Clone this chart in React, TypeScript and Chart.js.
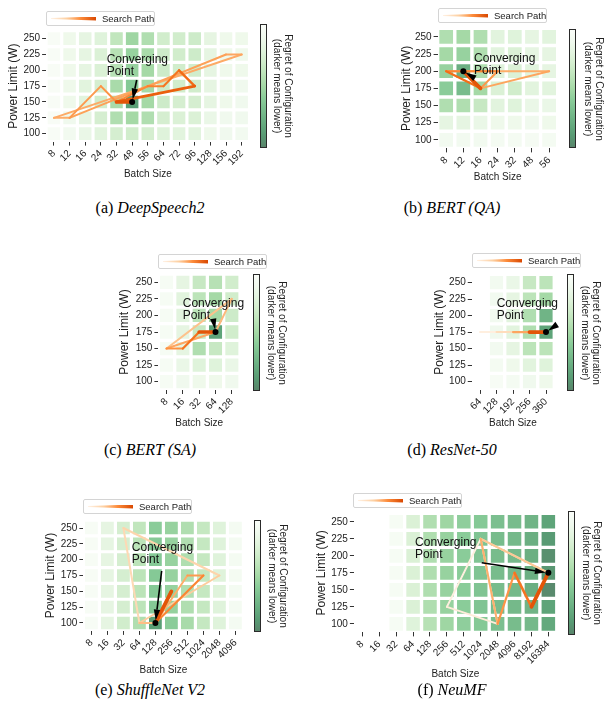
import React, { useEffect, useRef } from "react";
import { Chart, registerables } from "chart.js";
Chart.register(...registerables);

const FONT = '"Liberation Sans", Arial, Helvetica, sans-serif';
const SERIF = '"Liberation Serif", "Times New Roman", Times, serif';
const INK = "#222222";
Chart.defaults.font.family = FONT;
Chart.defaults.color = INK;

// ---------------- data ----------------
const powerLimits = [250, 225, 200, 175, 150, 125, 100];
const powerTicks = [100, 125, 150, 175, 200, 225, 250];

// (a) DeepSpeech2
const dsBatch = ["8", "12", "16", "24", "32", "48", "56", "64", "72", "96", "128", "156", "192"];
const dsRegret = [
  [0.02, 0.12, 0.18, 0.22, 0.38, 0.52, 0.45, 0.3, 0.3, 0.32, 0.18, 0.12, 0.12],
  [0.02, 0.12, 0.18, 0.25, 0.42, 0.55, 0.48, 0.32, 0.3, 0.32, 0.18, 0.12, 0.12],
  [0.02, 0.12, 0.18, 0.25, 0.42, 0.55, 0.5, 0.32, 0.3, 0.3, 0.18, 0.12, 0.12],
  [0.02, 0.12, 0.2, 0.28, 0.48, 0.62, 0.5, 0.32, 0.3, 0.3, 0.18, 0.12, 0.1],
  [0.02, 0.12, 0.2, 0.3, 0.48, 0.88, 0.5, 0.32, 0.28, 0.28, 0.18, 0.12, 0.1],
  [0.02, 0.1, 0.18, 0.28, 0.45, 0.5, 0.45, 0.28, 0.25, 0.25, 0.15, 0.1, 0.1],
  [0.02, 0.08, 0.15, 0.2, 0.28, 0.3, 0.28, 0.22, 0.2, 0.2, 0.12, 0.1, 0.08],
];
const dsPathBatch = ["12", "8", "192", "156", "12", "24", "32", "56", "64", "72", "96", "32", "48"];
const dsPathPower = [125, 125, 225, 225, 125, 175, 150, 175, 175, 200, 175, 150, 150];

// (b) BERT (QA)
const qaBatch = ["8", "12", "16", "24", "32", "48", "56"];
const qaRegret = [
  [0.45, 0.5, 0.45, 0.2, 0.22, 0.18, 0.2],
  [0.5, 0.55, 0.45, 0.2, 0.25, 0.18, 0.18],
  [0.55, 0.78, 0.45, 0.22, 0.25, 0.2, 0.18],
  [0.6, 0.7, 0.5, 0.25, 0.3, 0.2, 0.2],
  [0.45, 0.45, 0.35, 0.2, 0.22, 0.15, 0.15],
  [0.18, 0.18, 0.15, 0.12, 0.12, 0.1, 0.12],
  [0.08, 0.08, 0.08, 0.06, 0.06, 0.05, 0.06],
];
const qaPathBatch = ["8", "56", "16", "24", "8", "16", "12"];
const qaPathPower = [200, 200, 175, 200, 200, 175, 200];

// (c) BERT (SA)
const saBatch = ["8", "16", "32", "64", "128"];
const saRegret = [
  [0.04, 0.18, 0.35, 0.42, 0.3],
  [0.04, 0.2, 0.4, 0.5, 0.3],
  [0.04, 0.2, 0.4, 0.5, 0.32],
  [0.04, 0.18, 0.35, 0.85, 0.3],
  [0.04, 0.18, 0.45, 0.35, 0.22],
  [0.04, 0.15, 0.22, 0.22, 0.15],
  [0.04, 0.1, 0.12, 0.12, 0.1],
];
const saPathBatch = ["8", "128", "64", "8", "16", "32", "64"];
const saPathPower = [150, 225, 175, 150, 150, 175, 175];

// (d) ResNet-50
const rnBatch = ["64", "128", "192", "256", "360"];
const rnRegret = [
  [null, 0.08, 0.15, 0.35, 0.4],
  [null, 0.08, 0.18, 0.4, 0.5],
  [null, 0.08, 0.2, 0.45, 0.75],
  [null, 0.1, 0.2, 0.45, 0.85],
  [null, 0.08, 0.18, 0.4, 0.4],
  [null, 0.06, 0.12, 0.2, 0.22],
  [null, 0.03, 0.06, 0.1, 0.12],
];
const rnPathBatch = ["64", "128", "192", "256", "360"];
const rnPathPower = [175, 175, 175, 175, 175];

// (e) ShuffleNet V2
const snBatch = ["8", "16", "32", "64", "128", "256", "512", "1024", "2048", "4096"];
const snRegret = [
  [0.03, 0.18, 0.28, 0.38, 0.6, 0.55, 0.45, 0.36, 0.22, 0.06],
  [0.03, 0.18, 0.28, 0.4, 0.62, 0.55, 0.45, 0.36, 0.22, 0.06],
  [0.03, 0.18, 0.28, 0.4, 0.62, 0.55, 0.45, 0.36, 0.22, 0.06],
  [0.03, 0.18, 0.28, 0.4, 0.62, 0.55, 0.45, 0.36, 0.22, 0.06],
  [0.03, 0.18, 0.28, 0.4, 0.62, 0.55, 0.45, 0.36, 0.22, 0.06],
  [0.03, 0.18, 0.28, 0.4, 0.62, 0.56, 0.45, 0.36, 0.22, 0.06],
  [0.03, 0.18, 0.3, 0.45, 0.88, 0.6, 0.48, 0.36, 0.22, 0.06],
];
const snPathBatch = ["64", "32", "2048", "64", "128", "512", "1024", "128", "256", "128"];
const snPathPower = [100, 250, 175, 100, 100, 175, 175, 100, 150, 100];

// (f) NeuMF
const nmBatch = ["8", "16", "32", "64", "128", "256", "512", "1024", "2048", "4096", "8192", "16384"];
const nmRegret = [
  [null, null, 0.04, 0.25, 0.45, 0.52, 0.58, 0.62, 0.68, 0.7, 0.75, 0.85],
  [null, null, 0.04, 0.25, 0.45, 0.55, 0.6, 0.65, 0.7, 0.72, 0.78, 0.9],
  [null, null, 0.04, 0.25, 0.45, 0.55, 0.6, 0.65, 0.7, 0.72, 0.78, 0.95],
  [null, null, 0.04, 0.25, 0.45, 0.55, 0.6, 0.65, 0.7, 0.72, 0.78, 0.92],
  [null, null, 0.04, 0.25, 0.45, 0.55, 0.6, 0.65, 0.7, 0.72, 0.78, 0.98],
  [null, null, 0.04, 0.25, 0.45, 0.55, 0.6, 0.65, 0.7, 0.72, 0.75, 0.85],
  [null, null, 0.04, 0.22, 0.42, 0.52, 0.58, 0.62, 0.68, 0.7, 0.72, 0.82],
];
const nmPathBatch = ["1024", "256", "2048", "1024", "16384", "1024", "2048", "4096", "8192", "16384"];
const nmPathPower = [225, 125, 100, 225, 175, 225, 100, 175, 125, 175];

// ---------------- colours ----------------
const GREENS = [
  [247, 252, 245], [229, 245, 224], [199, 233, 192], [161, 217, 155], [116, 196, 118],
  [65, 171, 93], [35, 139, 69], [0, 109, 44], [0, 68, 27],
];
const ORANGES = [
  [255, 245, 235], [254, 230, 206], [253, 208, 162], [253, 174, 107], [253, 141, 60],
  [241, 105, 19], [217, 72, 1], [166, 54, 3], [127, 39, 4],
];
function ramp(stops: number[][], t: number) {
  const tt = Math.max(0, Math.min(1, t)) * (stops.length - 1);
  const i = Math.min(stops.length - 2, Math.floor(tt));
  const f = tt - i;
  return stops[i].map((v, k) => v + (stops[i + 1][k] - v) * f);
}
const rgb = (c: number[]) => `rgb(${c.map((v) => Math.round(v)).join(",")})`;
const cellColor = (t: number) => rgb(ramp(GREENS, t).map((v) => 0.65 * v + 0.35 * 255));
const pathColor = (t: number) => rgb(ramp(ORANGES, t));

// ---------------- panel setup ----------------
type Panel = {
  key: string; tag: string; name: string;
  batches: string[]; regret: (number | null)[][]; pathBatch: string[]; pathPower: number[];
  area: { l: number; t: number; r: number; b: number };
  yTitleX: number; xTitleY: number;
  cbar: { l: number; t: number; h: number }; cbLabelX: number;
  legend: { l: number; t: number };
  note: { tx: number; ty: number; ax: number; ay: number };
  t0: number; caption: { x: number; y: number };
};

const panels: Panel[] = [
  {
    key: "a", tag: "(a) ", name: "DeepSpeech2", batches: dsBatch, regret: dsRegret, pathBatch: dsPathBatch, pathPower: dsPathPower,
    area: { l: 46.1, t: 30.7, r: 249.5, b: 141.6 }, yTitleX: 13, xTitleY: 174.3,
    cbar: { l: 260, t: 24, h: 124 }, cbLabelX: 282, legend: { l: 46, t: 11 },
    note: { tx: 3.37, ty: 217.4, ax: 5.29, ay: 184.7 }, t0: 0.38, caption: { x: 150, y: 208 },
  },
  {
    key: "b", tag: "(b) ", name: "BERT (QA)", batches: qaBatch, regret: qaRegret, pathBatch: qaPathBatch, pathPower: qaPathPower,
    area: { l: 437.6, t: 28.3, r: 557.7, b: 148.4 }, yTitleX: 406, xTitleY: 177,
    cbar: { l: 569, t: 29, h: 119 }, cbLabelX: 593, legend: { l: 438, t: 8 },
    note: { tx: 1.62, ty: 218.8, ax: 1.68, ay: 189.7 }, t0: 0.38, caption: { x: 452, y: 208 },
  },
  {
    key: "c", tag: "(c) ", name: "BERT (SA)", batches: saBatch, regret: saRegret, pathBatch: saPathBatch, pathPower: saPathPower,
    area: { l: 158.4, t: 274.0, r: 240.0, b: 390.0 }, yTitleX: 124, xTitleY: 423,
    cbar: { l: 253, t: 274, h: 117 }, cbLabelX: 276, legend: { l: 158, t: 254 },
    note: { tx: 0.99, ty: 218.3, ax: 2.87, ay: 193.1 }, t0: 0.3, caption: { x: 150, y: 450 },
  },
  {
    key: "d", tag: "(d) ", name: "ResNet-50", batches: rnBatch, regret: rnRegret, pathBatch: rnPathBatch, pathPower: rnPathPower,
    area: { l: 471.75, t: 274.3, r: 554.25, b: 389.9 }, yTitleX: 439, xTitleY: 423,
    cbar: { l: 567, t: 274, h: 117 }, cbLabelX: 590, legend: { l: 472, t: 253 },
    note: { tx: 1.01, ty: 218.6, ax: 4.6, ay: 185.2 }, t0: 0.05, caption: { x: 452, y: 450 },
  },
  {
    key: "e", tag: "(e) ", name: "ShuffleNet V2", batches: snBatch, regret: snRegret, pathBatch: snPathBatch, pathPower: snPathPower,
    area: { l: 83.4, t: 520.1, r: 243.4, b: 630.9 }, yTitleX: 50.4, xTitleY: 670,
    cbar: { l: 254, t: 520, h: 112 }, cbLabelX: 277, legend: { l: 83, t: 499 },
    note: { tx: 2.52, ty: 218.9, ax: 4.39, ay: 182.1 }, t0: 0.2, caption: { x: 150, y: 690 },
  },
  {
    key: "f", tag: "(f) ", name: "NeuMF", batches: nmBatch, regret: nmRegret, pathBatch: nmPathBatch, pathPower: nmPathPower,
    area: { l: 353.9, t: 513.3, r: 556.8, b: 632.4 }, yTitleX: 321, xTitleY: 674,
    cbar: { l: 568, t: 511, h: 124 }, cbLabelX: 591, legend: { l: 353, t: 493 },
    note: { tx: 3.12, ty: 219.9, ax: 7.06, ay: 189.9 }, t0: 0.05, caption: { x: 452, y: 690 },
  },
];

function geometry(p: Panel) {
  const padTop = 12, padRight = 14;
  const left = Math.round(p.yTitleX - 7.2);
  const top = Math.round(p.area.t - padTop);
  const width = Math.ceil(p.area.r - left + padRight);
  const height = Math.ceil(p.xTitleY + 9 - top);
  const yAxisW = p.area.l - left;
  const xAxisH = p.xTitleY + 6 - p.area.b;
  const lpTop = p.area.t - top;
  const lpRight = width - (p.area.r - left);
  const lpBottom = height - (p.area.b - top) - xAxisH;
  return { left, top, width, height, yAxisW, xAxisH, lpTop, lpRight, lpBottom };
}

function buildChart(canvas: HTMLCanvasElement, p: Panel) {
  const g = geometry(p);
  const n = p.batches.length;
  const idx = (b: string) => p.batches.indexOf(b);
  const pathData = p.pathBatch.map((b, k) => ({ x: idx(b), y: p.pathPower[k] }));
  const nSeg = pathData.length - 1;
  const frac = (i: number) => (nSeg > 1 ? i / (nSeg - 1) : 1);
  const segT = (i: number) => p.t0 + (0.7 - p.t0) * Math.pow(frac(i), 1.5);
  const segW = (i: number) => 2 + 1.7 * Math.pow(frac(i), 8);
  const last = pathData[pathData.length - 1];

  const cellSets = powerLimits.map((pw, r) => {
    const cols = p.batches.map((_, i) => i).filter((i) => p.regret[r][i] != null);
    return {
      type: "bar" as const,
      data: cols.map((i) => ({ x: i, y: [pw - 10, pw + 10] })),
      backgroundColor: cols.map((i) => cellColor(p.regret[r][i] as number)),
      borderWidth: 0,
      grouped: false,
      barPercentage: 0.8,
      categoryPercentage: 1,
      order: 3,
    };
  });

  const notePlugin = {
    id: "convergeNote",
    afterDatasetsDraw(chart: any) {
      const { ctx } = chart;
      const xs = chart.scales.x, ys = chart.scales.y;
      const tipX = xs.getPixelForValue(last.x), tipY = ys.getPixelForValue(last.y);
      const sx = xs.getPixelForValue(p.note.ax), sy = ys.getPixelForValue(p.note.ay);
      ctx.save();
      ctx.font = `12px ${FONT}`;
      ctx.fillStyle = "#111";
      ctx.textBaseline = "middle";
      ctx.textAlign = "left";
      const tx = xs.getPixelForValue(p.note.tx), ty = ys.getPixelForValue(p.note.ty);
      ctx.fillText("Converging", tx, ty);
      ctx.fillText("Point", tx, ty + 12);
      const dx = tipX - sx, dy = tipY - sy;
      const len = Math.hypot(dx, dy);
      const ux = dx / len, uy = dy / len;
      const ex = tipX - ux * 2.5, ey = tipY - uy * 2.5;
      const hl = 11, hw = 3.2;
      const bx = ex - ux * hl, by = ey - uy * hl;
      ctx.strokeStyle = "#000";
      ctx.fillStyle = "#000";
      ctx.lineWidth = 1.6;
      if (len - 2.5 > hl) {
        ctx.beginPath();
        ctx.moveTo(sx, sy);
        ctx.lineTo(bx, by);
        ctx.stroke();
      }
      ctx.beginPath();
      ctx.moveTo(ex, ey);
      ctx.lineTo(bx - uy * hw, by + ux * hw);
      ctx.lineTo(bx + uy * hw, by - ux * hw);
      ctx.closePath();
      ctx.fill();
      ctx.restore();
    },
  };

  return new Chart(canvas, {
    type: "bar",
    data: {
      datasets: [
        ...cellSets,
        {
          type: "line" as const,
          data: pathData,
          order: 2,
          pointRadius: 0,
          borderWidth: 2,
          borderColor: pathColor(p.t0),
          fill: false,
          tension: 0,
          borderCapStyle: "round",
          borderJoinStyle: "round",
          segment: {
            borderColor: (c: any) => pathColor(segT(c.p0DataIndex)),
            borderWidth: (c: any) => segW(c.p0DataIndex),
          },
        },
        {
          type: "scatter" as const,
          data: [last],
          order: 1,
          pointRadius: 3,
          pointBackgroundColor: "#000",
          pointBorderWidth: 0,
        },
      ] as any,
    },
    options: {
      responsive: false,
      animation: false,
      events: [],
      layout: { padding: { left: 0, top: g.lpTop, right: g.lpRight, bottom: g.lpBottom } },
      plugins: { legend: { display: false }, tooltip: { enabled: false } },
      scales: {
        x: {
          type: "linear",
          min: -0.5,
          max: n - 0.5,
          offset: false,
          afterBuildTicks: (s: any) => {
            s.ticks = p.batches.map((_, i) => ({ value: i }));
          },
          ticks: {
            autoSkip: false,
            minRotation: 45,
            maxRotation: 45,
            padding: 2,
            color: INK,
            font: { family: FONT, size: 10 },
            callback: (v: any) => p.batches[v as number],
          },
          grid: { display: true, drawOnChartArea: false, drawTicks: true, tickLength: 4, tickColor: "#333", tickWidth: 1, offset: false },
          border: { display: false },
          title: { display: true, text: "Batch Size", color: INK, font: { family: FONT, size: 10 }, padding: 0 },
          afterFit: (s: any) => {
            s.height = g.xAxisH;
            s.paddingLeft = 0;
            s.paddingRight = 0;
          },
        },
        y: {
          type: "linear",
          min: 87.5,
          max: 262.5,
          beginAtZero: false,
          afterBuildTicks: (s: any) => {
            s.ticks = powerTicks.map((v) => ({ value: v }));
          },
          ticks: { padding: 2, color: INK, font: { family: FONT, size: 10 } },
          grid: { display: true, drawOnChartArea: false, drawTicks: true, tickLength: 4, tickColor: "#333", tickWidth: 1 },
          border: { display: false },
          title: { display: true, text: "Power Limit (W)", color: INK, font: { family: FONT, size: 12 }, padding: 0 },
          afterFit: (s: any) => {
            s.width = g.yAxisW;
            s.paddingTop = 0;
            s.paddingBottom = 0;
          },
        },
      },
    } as any,
    plugins: [notePlugin],
  });
}

const cbGradient = `linear-gradient(to bottom, ${Array.from({ length: 11 }, (_, i) => `${cellColor(i / 10)} ${i * 10}%`).join(", ")})`;
const legendGradient = `linear-gradient(to right, ${pathColor(0.03)}, ${pathColor(0.25)} 35%, ${pathColor(0.5)} 65%, ${pathColor(0.75)})`;

function PanelView({ p }: { p: Panel }) {
  const ref = useRef<HTMLCanvasElement>(null);
  const g = geometry(p);
  useEffect(() => {
    const chart = buildChart(ref.current as HTMLCanvasElement, p);
    return () => chart.destroy();
  }, []);
  const cbCenterY = p.cbar.t + p.cbar.h / 2;
  return (
    <>
      <canvas
        ref={ref}
        width={g.width}
        height={g.height}
        style={{ position: "absolute", left: g.left, top: g.top, width: g.width, height: g.height }}
      />
      <div
        style={{
          position: "absolute", left: p.legend.l, top: p.legend.t, width: 109, height: 15,
          border: "1px solid #d4d4d4", borderRadius: 2, background: "#fff", boxSizing: "border-box",
        }}
      >
        <div
          style={{
            position: "absolute", left: 4, top: 4.5, width: 45, height: 4, background: legendGradient,
            clipPath: "polygon(0 40%, 100% 0, 100% 100%, 0 60%)",
          }}
        />
        <span style={{ position: "absolute", left: 55, top: 0, lineHeight: "13px", fontSize: 9.5, color: INK, whiteSpace: "nowrap" }}>
          Search Path
        </span>
      </div>
      <div
        style={{
          position: "absolute", left: p.cbar.l, top: p.cbar.t, width: 7, height: p.cbar.h,
          border: "1px solid #2a2a2a", background: cbGradient, boxSizing: "border-box",
        }}
      />
      <div
        style={{
          position: "absolute", left: p.cbLabelX, top: cbCenterY, transform: "translate(-50%, -50%) rotate(90deg)",
          whiteSpace: "nowrap", textAlign: "center", fontSize: 10, lineHeight: "10.5px", color: INK,
        }}
      >
        Regret of Configuration
        <br />
        (darker means lower)
      </div>
      <div
        style={{
          position: "absolute", left: p.caption.x, top: p.caption.y, transform: "translate(-50%, -50%)",
          whiteSpace: "nowrap", fontFamily: SERIF, fontSize: 16, color: "#000",
        }}
      >
        {p.tag}
        <i>{p.name}</i>
      </div>
    </>
  );
}

export default function App() {
  return (
    <div
      style={{
        position: "absolute", left: 0, top: 0, width: 605, height: 711, background: "#fff",
        overflow: "hidden", fontFamily: FONT,
      }}
    >
      {panels.map((p) => (
        <PanelView key={p.key} p={p} />
      ))}
    </div>
  );
}
